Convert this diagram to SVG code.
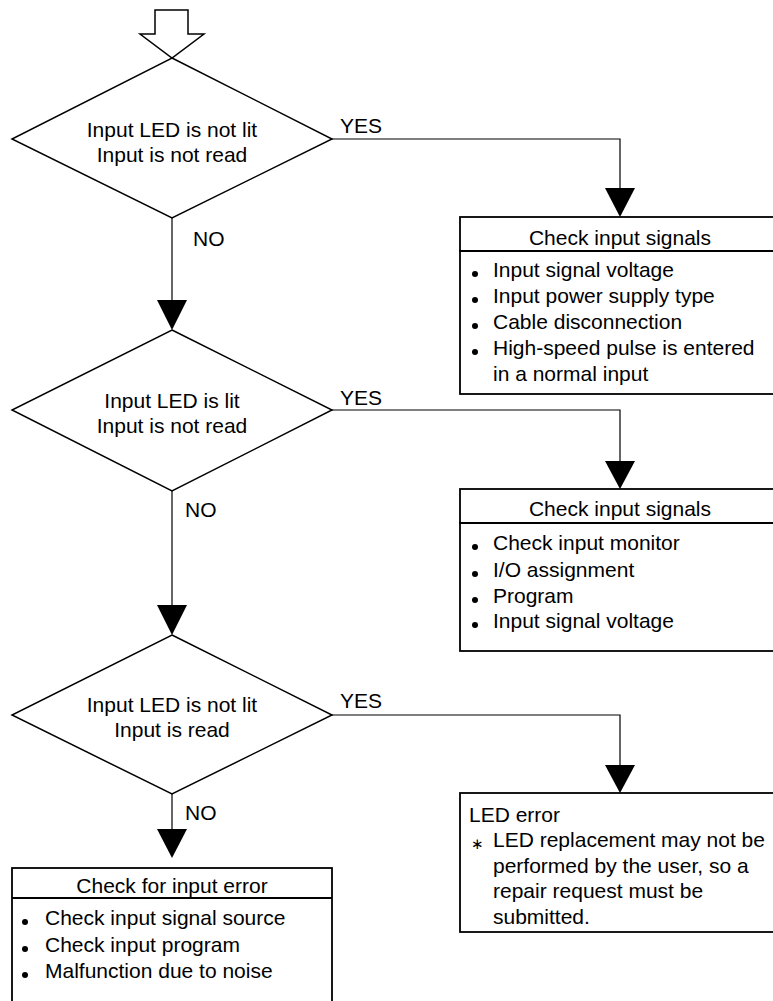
<svg xmlns="http://www.w3.org/2000/svg" width="773" height="1001" viewBox="0 0 773 1001">
<defs>
<style>
text{font-family:"Liberation Sans",Arial,sans-serif;font-size:21px;fill:#000}
.c{text-anchor:middle}
.sh{fill:#fff;stroke:#000;stroke-width:1.5}
.ln{fill:none;stroke:#000;stroke-width:1.2}
.ah{fill:#000;stroke:none}
.bx{fill:#fff;stroke:#000;stroke-width:1.8}
.ast{font-size:15px}
</style>
</defs>
<rect width="773" height="1001" fill="#fff"/>
<g id="start">
<path class="sh" d="M155,10 H188 V34 H204 L172,58 L140,34 H155 Z"/>
</g>
<g id="connectors">
<path class="ln" d="M172,218 V302"/>
<path class="ah" d="M157,300 H187 L172,330 Z"/>
<path class="ln" d="M332,139 H620 V190"/>
<path class="ah" d="M605,188 H635 L620,217 Z"/>
<path class="ln" d="M172,491 V607"/>
<path class="ah" d="M157,605 H187 L172,635 Z"/>
<path class="ln" d="M332,410 H620 V463"/>
<path class="ah" d="M605,461 H635 L620,489 Z"/>
<path class="ln" d="M172,794 V831"/>
<path class="ah" d="M157,829 H187 L172,858 Z"/>
<path class="ln" d="M332,715 H620 V767"/>
<path class="ah" d="M605,765 H635 L620,793 Z"/>
<text x="340" y="133">YES</text>
<text x="193" y="246">NO</text>
<text x="340" y="405">YES</text>
<text x="185" y="517">NO</text>
<text x="340" y="708">YES</text>
<text x="185" y="820">NO</text>
</g>
<g id="d1">
<path class="sh" d="M172,58 L332,139 L172,218 L12,139 Z"/>
<text class="c" x="172" y="137">Input LED is not lit</text>
<text class="c" x="172" y="162">Input is not read</text>
</g>
<g id="d2">
<path class="sh" d="M172,330 L332,410 L172,491 L12,410 Z"/>
<text class="c" x="172" y="408">Input LED is lit</text>
<text class="c" x="172" y="433">Input is not read</text>
</g>
<g id="d3">
<path class="sh" d="M172,635 L332,715 L172,794 L12,715 Z"/>
<text class="c" x="172" y="712">Input LED is not lit</text>
<text class="c" x="172" y="737">Input is read</text>
</g>
<g id="b1">
<rect class="bx" x="460" y="217" width="330" height="177"/>
<path class="bx" d="M459,251 H790"/>
<text class="c" x="620" y="245">Check input signals</text>
<g class="ah"><circle cx="475" cy="274" r="3"/><circle cx="475" cy="300" r="3"/><circle cx="475" cy="326" r="3"/><circle cx="475" cy="352" r="3"/></g>
<text x="493" y="277">Input signal voltage</text>
<text x="493" y="303">Input power supply type</text>
<text x="493" y="329">Cable disconnection</text>
<text x="493" y="355">High-speed pulse is entered</text>
<text x="493" y="381">in a normal input</text>
</g>
<g id="b2">
<rect class="bx" x="460" y="489" width="330" height="162"/>
<path class="bx" d="M459,523 H790"/>
<text class="c" x="620" y="516">Check input signals</text>
<g class="ah"><circle cx="475" cy="547" r="3"/><circle cx="475" cy="574" r="3"/><circle cx="475" cy="600" r="3"/><circle cx="475" cy="625" r="3"/></g>
<text x="493" y="550">Check input monitor</text>
<text x="493" y="577">I/O assignment</text>
<text x="493" y="603">Program</text>
<text x="493" y="628">Input signal voltage</text>
</g>
<g id="b3">
<rect class="bx" x="460" y="793" width="330" height="139"/>
<text x="469" y="822">LED error</text>
<text class="ast" x="471" y="849">∗</text>
<text x="493" y="847">LED replacement may not be</text>
<text x="493" y="873">performed by the user, so a</text>
<text x="493" y="898">repair request must be</text>
<text x="493" y="924">submitted.</text>
</g>
<g id="b4">
<rect class="bx" x="12" y="868" width="320" height="150"/>
<path class="bx" d="M12,898 H332"/>
<text class="c" x="172" y="893">Check for input error</text>
<g class="ah"><circle cx="25" cy="922" r="3"/><circle cx="25" cy="949" r="3"/><circle cx="25" cy="975" r="3"/></g>
<text x="45" y="925">Check input signal source</text>
<text x="45" y="952">Check input program</text>
<text x="45" y="978">Malfunction due to noise</text>
</g>
</svg>
